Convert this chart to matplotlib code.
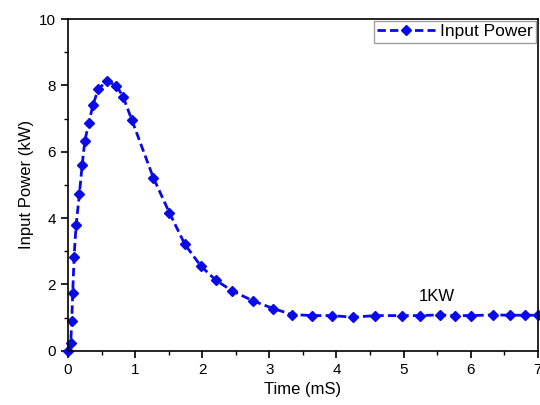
import matplotlib
matplotlib.use('Agg')
import matplotlib.pyplot as plt
from matplotlib.ticker import MultipleLocator

plt.rcParams['font.family'] = ['Liberation Sans', 'DejaVu Sans']

# values
time_ms = [0.0, 0.04, 0.055, 0.07, 0.09, 0.12, 0.17, 0.21, 0.25, 0.31, 0.37, 0.45,
           0.58, 0.72, 0.82, 0.95, 1.27, 1.51, 1.74, 1.98, 2.2, 2.44, 2.76,
           3.06, 3.34, 3.64, 3.93, 4.25, 4.57, 4.98, 5.25, 5.54, 5.77, 6.01,
           6.33, 6.58, 6.81, 7.0]
power_kw = [0.0, 0.22, 0.9, 1.75, 2.83, 3.78, 4.74, 5.59, 6.33, 6.87, 7.4, 7.89,
            8.13, 7.99, 7.66, 6.96, 5.22, 4.16, 3.21, 2.55, 2.13, 1.81, 1.5,
            1.27, 1.09, 1.06, 1.06, 1.01, 1.06, 1.06, 1.06, 1.08, 1.06, 1.06,
            1.08, 1.07, 1.07, 1.07]

fig = plt.figure(figsize=(5.4, 4.05), dpi=100)
ax = fig.add_axes([0.126, 0.134, 0.87, 0.819])

ax.plot(time_ms, power_kw, linestyle='--', marker='D', markersize=5, linewidth=2,
        color='#0a0ae6', label='Input Power', clip_on=False, dashes=(3, 1.5))

ax.text(5.5, 1.62, '1KW', fontsize=12, ha='center', va='center')

ax.set_xlim(0, 7)
ax.set_ylim(0, 10)
ax.xaxis.set_major_locator(MultipleLocator(1))
ax.xaxis.set_minor_locator(MultipleLocator(0.5))
ax.yaxis.set_major_locator(MultipleLocator(2))
ax.yaxis.set_minor_locator(MultipleLocator(1))
ax.tick_params(which='major', direction='out', length=5, width=1.2, labelsize=11)
ax.tick_params(which='minor', direction='out', length=3, width=1)
for s in ax.spines.values():
    s.set_linewidth(1.2)

ax.set_xlabel('Time (mS)', fontsize=12)
ax.set_ylabel('Input Power (kW)', fontsize=12)

leg = ax.legend(loc='upper right', fontsize=12.5, frameon=True, fancybox=False,
                borderpad=0.2, handlelength=3.3, handletextpad=0.3,
                borderaxespad=0.1)
leg.get_frame().set_edgecolor('#888888')
leg.get_frame().set_linewidth(1)

fig.savefig('out.png', dpi=100)
